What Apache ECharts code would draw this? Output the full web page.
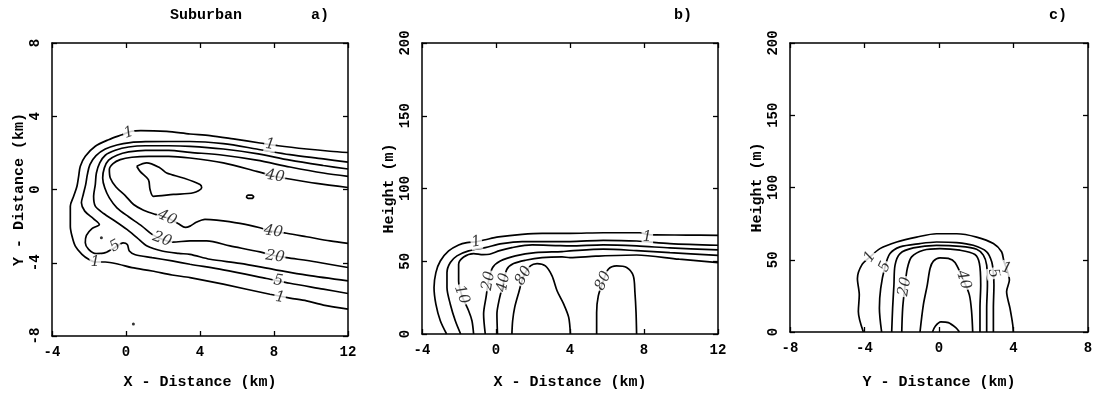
<!DOCTYPE html>
<html><head><meta charset="utf-8">
<script src="https://cdn.jsdelivr.net/npm/echarts/dist/echarts.min.js"></script>
<style>html,body{margin:0;padding:0;background:#fff}#c{width:1100px;height:395px}</style>
</head><body><div id="c"></div><script>
// ---------- Panel a : plan view (X, Y in km) ----------
const aXTicks = [-4, 0, 4, 8, 12];
const aYTicks = [-8, -4, 0, 4, 8];
const a_c1 = [[12,2.02],[11.03,2.09],[9.77,2.21],[8.23,2.39],[7.24,2.54],[5.8,2.76],[4.54,2.94],[3.46,3.03],[2.2,3.17],[0.8,3.22],[0.3,3.18],[-0.22,2.99],[-0.94,2.72],[-1.66,2.36],[-2.2,1.81],[-2.47,1.27],[-2.56,0.72],[-2.65,0.18],[-2.83,-0.37],[-3.01,-0.91],[-3.01,-1.45],[-3.01,-2.0],[-2.92,-2.54],[-2.74,-3.09],[-2.38,-3.54],[-2.02,-3.81],[-1.66,-3.96],[-1.12,-3.96],[-0.4,-4.08],[0.32,-4.27],[1.41,-4.45],[2.49,-4.67],[3.46,-4.81],[5.26,-5.17],[7.78,-5.72],[8.86,-5.93],[9.76,-6.08],[10.67,-6.31],[12,-6.53]];
const a_c5 = [[12,1.49],[10.67,1.67],[8.86,1.9],[7.06,2.21],[5.26,2.5],[3.46,2.62],[2.31,2.62],[1.05,2.61],[0.23,2.56],[-0.49,2.43],[-1.12,2.21],[-1.62,1.85],[-1.95,1.36],[-2.09,0.81],[-2.18,0.27],[-2.31,-0.27],[-2.41,-0.73],[-2.23,-1.18],[-1.75,-1.6],[-1.44,-1.91],[-1.84,-2.14],[-2.14,-2.51],[-2.2,-2.91],[-2.02,-3.27],[-1.62,-3.5],[-1.12,-3.45],[-0.58,-3.15],[-0.16,-2.91],[0.07,-3.0],[0.18,-3.36],[0.5,-3.56],[1.41,-3.72],[2.49,-3.9],[3.46,-4.08],[5.26,-4.39],[7.6,-4.86],[8.86,-5.12],[10.67,-5.44],[12,-5.68]];
const a_c10 = [[12,1.12],[10.67,1.31],[8.86,1.6],[7.06,1.96],[5.26,2.21],[3.46,2.36],[2.31,2.39],[1.05,2.39],[0.14,2.32],[-0.58,2.14],[-1.12,1.87],[-1.42,1.45],[-1.6,0.9],[-1.66,0.27],[-1.75,-0.37],[-1.66,-0.91],[-1.21,-1.31],[-0.58,-1.73],[0.05,-2.18],[0.59,-2.63],[1.14,-3.09],[1.95,-3.36],[2.85,-3.49],[3.46,-3.54],[4.54,-3.81],[6.16,-4.03],[7.96,-4.36],[9.76,-4.68],[12,-4.99]];
const a_c20 = [[12,0.72],[10.67,0.9],[8.86,1.23],[7.06,1.6],[5.26,1.87],[3.46,2.03],[2.31,2.14],[1.05,2.14],[0.14,2.05],[-0.49,1.87],[-0.94,1.6],[-1.17,1.18],[-1.26,0.63],[-1.15,0.09],[-0.9,-0.46],[-0.49,-1.0],[0.14,-1.49],[0.86,-2.0],[1.41,-2.45],[1.95,-2.72],[2.52,-2.87],[3.46,-2.81],[4.36,-2.81],[5.62,-3.08],[7.24,-3.41],[8.05,-3.62],[8.68,-3.72],[10.3,-3.96],[12,-4.26]];
const a_c40 = [[12,0.11],[10.3,0.33],[8.68,0.6],[8.05,0.72],[7.06,0.99],[5.26,1.45],[3.46,1.72],[2.31,1.81],[1.23,1.81],[0.32,1.76],[-0.31,1.63],[-0.7,1.41],[-0.9,1.09],[-0.85,0.63],[-0.54,0.14],[-0.04,-0.33],[0.41,-0.82],[0.95,-1.13],[1.59,-1.36],[2.22,-1.54],[2.81,-1.85],[3.21,-2.07],[3.46,-2.0],[3.82,-1.78],[4.27,-1.63],[4.9,-1.67],[6.16,-1.85],[7.24,-2.09],[7.96,-2.3],[8.68,-2.39],[9.76,-2.58],[11.03,-2.81],[12,-2.94]];
const a_c80 = [[0.58,1.27],[1.12,1.45],[1.84,1.18],[2.2,0.9],[3.1,0.63],[4.0,0.27],[4.09,0.09],[3.64,-0.18],[2.56,-0.27],[1.48,-0.37],[1.3,0.0],[1.21,0.54],[0.76,0.99],[0.58,1.27]];
const a_c80b = [[6.5,-0.4],[6.6,-0.31],[6.8,-0.31],[6.9,-0.4],[6.8,-0.49],[6.6,-0.49],[6.5,-0.4]];
const aSpecks = [[-1.33,-2.63],[0.4,-7.35]];
const aLabels = [['1',0.15,3.1],['1',7.78,2.45],['40',8.05,0.72],['40',2.22,-1.54],['20',1.95,-2.72],['5',-0.58,-3.1],['1',-1.66,-3.96],['40',7.96,-2.3],['20',8.05,-3.67],['5',8.23,-4.99],['1',8.32,-5.9]];

// ---------- Panel b : X - height section ----------
const bXTicks = [-4, 0, 4, 8, 12];
const bYTicks = [0, 50, 100, 150, 200];
const b_c1 = [[-2.67,0],[-3.01,9.1],[-3.25,20.5],[-3.35,31.9],[-3.25,42.2],[-3.01,50.2],[-2.56,57.1],[-2.02,61.2],[-1.57,62.8],[-1.06,63.4],[-0.58,64.8],[0.14,66.7],[1.41,68.5],[2.49,69.2],[4.0,69.2],[5.8,69.6],[7.78,69.6],[8.18,68.5],[8.6,68.1],[10.31,68],[12,67.8]];
const b_c5 = [[-1.91,0],[-2.2,9.1],[-2.47,20.5],[-2.65,31.9],[-2.65,42.2],[-2.47,49.1],[-2.11,53.7],[-1.48,57.1],[-0.58,59.4],[0.32,62.1],[1.41,63.5],[2.85,63.5],[4.0,63.5],[5.8,64.4],[7.6,63.9],[9.4,62.1],[12,61.0]];
const b_c10 = [[-1.21,0],[-1.3,9.1],[-1.48,16],[-1.84,26.3],[-2.02,36.5],[-2.02,47.9],[-1.75,52.9],[-1.21,55.3],[-0.7,54.5],[-0.35,54.8],[0.2,57.3],[0.86,59.4],[1.95,61.2],[3.21,60.8],[4.0,60.5],[5.8,61.2],[7.6,60.5],[9.4,59.2],[12,57.8]];
const b_c20 = [[-0.58,0],[-0.67,13.7],[-0.54,25.1],[-0.4,36.5],[-0.18,45.7],[0.23,50.2],[1.05,53.7],[2.13,55.9],[3.57,56.6],[4.0,57.1],[5.8,58.3],[7.6,57.3],[9.4,55.9],[12,54.1]];
const b_c40 = [[0.08,0],[0.05,13.7],[0.18,24],[0.41,35.4],[0.59,44.5],[0.95,48.4],[1.59,50.7],[2.49,52.5],[3.57,53],[4.0,52.5],[5.4,53.5],[7.6,54.3],[9.9,51.4],[12,49.1]];
const b_c80a = [[0.86,0],[0.9,9.1],[1.01,18.3],[1.23,28.5],[1.5,40],[1.86,46.8],[2.22,48.4],[2.67,46.8],[3.03,39.95],[3.3,29.7],[3.66,20.5],[3.93,11.4],[4.02,0]];
const b_c80b = [[5.44,0],[5.44,14.8],[5.53,26.2],[5.8,36.5],[6.07,44.5],[6.52,46.8],[7.06,45.7],[7.42,40],[7.51,28.5],[7.57,14.8],[7.6,0]];
const bLabels = [['1',-1.06,63.2],['1',8.18,66.5],['10',-1.85,27],['20',-0.4,36.5],['40',0.41,35.4],['80',1.5,40],['80',5.8,36.5]];

// ---------- Panel c : Y - height section ----------
const cXTicks = [-8, -4, 0, 4, 8];
const cYTicks = [0, 50, 100, 150, 200];
const c_c1 = [[-4.06,0],[-4.33,14.2],[-4.28,25.7],[-4.38,37.1],[-4.15,46.3],[-3.7,52],[-3.17,57.7],[-2.27,62.3],[-1.2,65.7],[-0.13,68],[0.95,68],[2.02,65.7],[2.92,61.2],[3.36,55.5],[3.49,48.6],[3.63,44],[3.78,36],[3.63,28],[3.81,16.5],[3.96,5],[3.99,0]];
const c_c5 = [[-3.08,0],[-3.2,16.5],[-3.13,30.2],[-2.9,45.1],[-2.63,54.3],[-2.09,58.9],[-1.02,61.2],[-0.13,62.3],[0.95,61.9],[1.84,60],[2.56,55.5],[2.83,48.6],[2.92,40.6],[2.95,32.5],[2.92,16.5],[2.92,0]];
const c_c10 = [[-2.54,0],[-2.49,16.5],[-2.42,32.5],[-2.36,46.3],[-2.09,54.3],[-1.38,58.2],[-0.13,60],[1.13,59.3],[2.02,57.3],[2.38,53.2],[2.56,46.3],[2.6,32.5],[2.56,16.5],[2.56,0]];
const c_c20 = [[-2.0,0],[-1.95,16.5],[-1.83,31.4],[-1.7,44],[-1.47,52],[-0.84,56.6],[0.05,57.7],[1.13,56.6],[1.93,53.6],[2.17,47.4],[2.24,32.5],[2.2,16.5],[2.2,0]];
const c_c40 = [[-1.02,0],[-0.84,18.8],[-0.63,32.5],[-0.48,44],[-0.3,49],[0.05,51.3],[0.5,50.9],[0.86,48.1],[1.31,36],[1.63,25.7],[1.75,14.2],[1.81,0]];
const c_c80 = [[-0.35,0],[-0.2,4],[0.1,7],[0.5,6.5],[0.9,3],[1.1,0]];
const cLabels = [['1',-3.7,52],['5',-2.9,45.1],['20',-1.83,31.4],['40',1.31,36],['5',2.92,40.6],['1',3.63,44]];

// ---------- texts ----------
const panelTags = ['a)', 'b)', 'c)'];
const caption = 'Suburban';
const xNames = ['X - Distance (km)', 'X - Distance (km)', 'Y - Distance (km)'];
const yNames = ['Y - Distance (km)', 'Height (m)', 'Height (m)'];

// ---------- styles (kept apart from the data) ----------
const aLabelRot = [18, -8, -8, -25, -20, 30, 0, -8, -8, -8, -8];
const bLabelRot = [10, 0, -70, 80, 80, 60, 65];
const cLabelRot = [55, 65, 80, -72, -75, -15];
const grids = [
  {left: 52, top: 43, width: 296, height: 294},
  {left: 422, top: 43, width: 296, height: 292},
  {left: 790, top: 43, width: 298, height: 291}
];
const xNameGaps = [39, 41, 43];
const yNameGaps = [24, 25, 23];
const AX = 'Liberation Mono';
const black = '#000';

const panels = [
  {xt: aXTicks, yt: aYTicks, lines: [a_c1,a_c5,a_c10,a_c20,a_c40,a_c80,a_c80b], labels: aLabels, rot: aLabelRot, specks: aSpecks},
  {xt: bXTicks, yt: bYTicks, lines: [b_c1,b_c5,b_c10,b_c20,b_c40,b_c80a,b_c80b], labels: bLabels, rot: bLabelRot, specks: []},
  {xt: cXTicks, yt: cYTicks, lines: [c_c1,c_c5,c_c10,c_c20,c_c40,c_c80], labels: cLabels, rot: cLabelRot, specks: []}
];

const xAxis = [], yAxis = [], series = [];
panels.forEach((p, i) => {
  const xi = p.xt[1] - p.xt[0], yi = p.yt[1] - p.yt[0];
  const common = {
    type: 'value', gridIndex: i, splitLine: {show: false},
    axisLine: {show: true, onZero: false, lineStyle: {color: black, width: 1.5}},
    axisTick: {show: true, inside: true, length: 5, lineStyle: {color: black, width: 1.3}}
  };
  xAxis.push(Object.assign({}, common, {
    position: 'bottom', min: p.xt[0], max: p.xt[p.xt.length - 1], interval: xi,
    axisLabel: {color: black, fontFamily: AX, fontWeight: 'bold', fontSize: 14, margin: 9,
      formatter: v => String(p.xt.find(t => t === v))},
    name: xNames[i], nameLocation: 'middle', nameGap: xNameGaps[i],
    nameTextStyle: {color: black, fontFamily: AX, fontWeight: 'bold', fontSize: 15}
  }));
  xAxis.push(Object.assign({}, common, {
    position: 'top', min: p.xt[0], max: p.xt[p.xt.length - 1], interval: xi,
    axisLabel: {show: false}
  }));
  yAxis.push(Object.assign({}, common, {
    position: 'left', min: p.yt[0], max: p.yt[p.yt.length - 1], interval: yi,
    axisLabel: {color: black, fontFamily: AX, fontWeight: 'bold', fontSize: 14, margin: 10, rotate: 90,
      formatter: v => String(p.yt.find(t => t === v))},
    name: yNames[i], nameLocation: 'middle', nameGap: yNameGaps[i], nameRotate: 90,
    nameTextStyle: {color: black, fontFamily: AX, fontWeight: 'bold', fontSize: 15}
  }));
  yAxis.push(Object.assign({}, common, {
    position: 'right', min: p.yt[0], max: p.yt[p.yt.length - 1], interval: yi,
    axisLabel: {show: false}
  }));
  p.lines.forEach(d => series.push({
    type: 'line', xAxisIndex: 2 * i, yAxisIndex: 2 * i, data: d,
    symbol: 'none', smooth: 0.3, clip: true, silent: true,
    lineStyle: {color: black, width: 1.7}, z: 2
  }));
  if (p.specks.length) series.push({
    type: 'scatter', xAxisIndex: 2 * i, yAxisIndex: 2 * i, data: p.specks,
    symbolSize: 3, itemStyle: {color: black}, silent: true, z: 2
  });
  series.push({
    type: 'scatter', xAxisIndex: 2 * i, yAxisIndex: 2 * i, silent: true, z: 5,
    symbolSize: 1, itemStyle: {color: 'rgba(0,0,0,0)'},
    data: p.labels.map((l, k) => ({name: l[0], value: [l[1], l[2]], label: {rotate: p.rot[k]}})),
    label: {show: true, position: 'inside', formatter: '{b}', color: black,
      fontFamily: 'DejaVu Serif', fontStyle: 'italic', fontSize: 15,
      backgroundColor: '#fff', padding: [0, 1]}
  });
});

const tagFont = 'bold 15px "Liberation Mono"';
const graphic = [
  {type: 'text', x: 206, y: 15, style: {text: caption, font: tagFont, fill: black, textAlign: 'center', textVerticalAlign: 'middle'}},
  {type: 'text', x: 320, y: 15, style: {text: panelTags[0], font: tagFont, fill: black, textAlign: 'center', textVerticalAlign: 'middle'}},
  {type: 'text', x: 683, y: 15, style: {text: panelTags[1], font: tagFont, fill: black, textAlign: 'center', textVerticalAlign: 'middle'}},
  {type: 'text', x: 1058, y: 15, style: {text: panelTags[2], font: tagFont, fill: black, textAlign: 'center', textVerticalAlign: 'middle'}}
];

const chart = echarts.init(document.getElementById('c'), null, {renderer: 'canvas'});
chart.setOption({animation: false, grid: grids, xAxis, yAxis, series, graphic});
</script></body></html>
